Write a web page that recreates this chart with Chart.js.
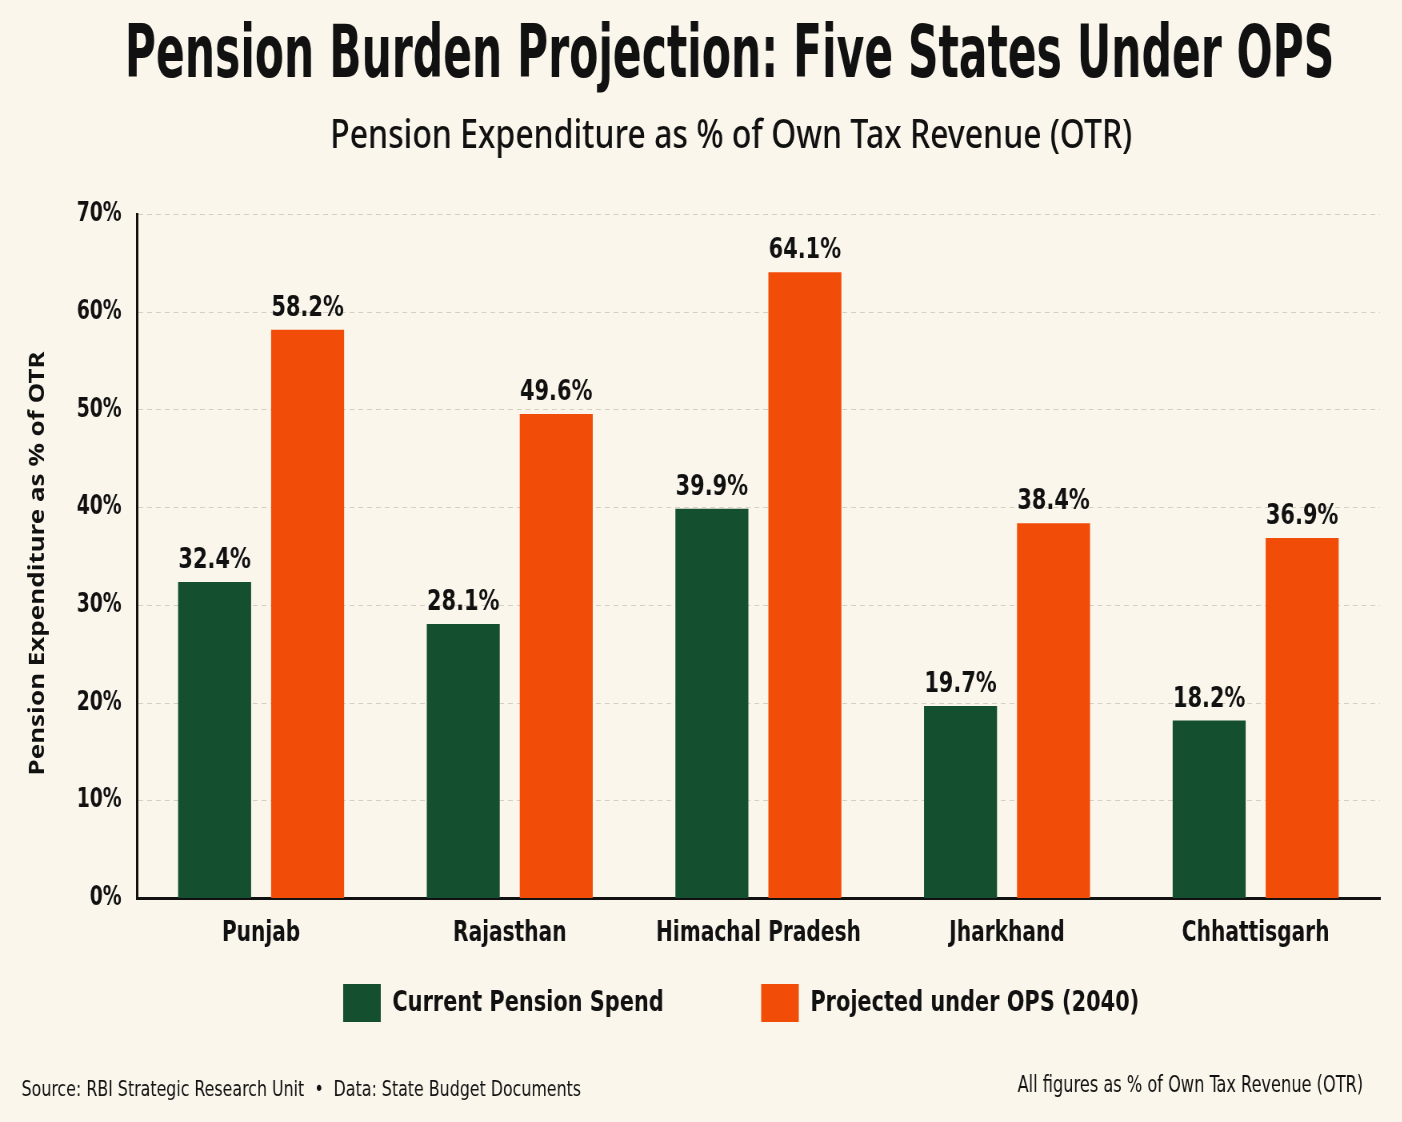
<!DOCTYPE html>
<html>
<head>
<meta charset="utf-8">
<script src="https://cdn.jsdelivr.net/npm/chart.js@4.4.1/dist/chart.umd.min.js"></script>
<style>
  html, body { margin: 0; padding: 0; background: #faf6ec; overflow: hidden; }
  /* chart is laid out 1753 wide and squeezed to 1402 so the text reads condensed */
  #squeeze { width: 1753px; height: 1122px; transform: scaleX(0.8); transform-origin: 0 0; }
</style>
</head>
<body>
<div id="squeeze"><canvas id="chart" width="1753" height="1122"></canvas></div>
<script>
var states = ["Punjab", "Rajasthan", "Himachal Pradesh", "Jharkhand", "Chhattisgarh"];
var currentSpend = [32.4, 28.1, 39.9, 19.7, 18.2];
var projectedOps = [58.2, 49.6, 64.1, 38.4, 36.9];
var yTicks = [0, 10, 20, 30, 40, 50, 60, 70];

var narrow = "'DejaVu Sans Condensed', 'Liberation Sans Narrow', sans-serif";
var green = "#14502f";
var orange = "#f24d08";

var bgPlugin = {
    id: "bg",
    beforeDraw: function(chart) {
        var c = chart.ctx;
        c.save();
        c.fillStyle = "#faf6ec";
        c.fillRect(0, 0, chart.width, chart.height);
        c.restore();
    }
};

// place the title blocks and legend like the original (title text is fitted to its box width)
var nudgePlugin = {
    id: "nudge",
    afterLayout: function(chart) {
        chart.boxes.forEach(function(b) {
            if (b instanceof Chart.Scale) return;
            if (b === chart.legend) {
                b.left += 22;
                b.right += 22;
            } else if (b === chart.titleBlock) {
                b.left = 912 - 756;
                b.right = 912 + 756;
            } else {
                b.left = 914 - 504;
                b.right = 914 + 504;
            }
        });
    }
};

// value labels over bars, y axis title, footer notes
var textPlugin = {
    id: "extraText",
    afterDatasetsDraw: function(chart) {
        var c = chart.ctx;
        c.save();
        c.font = "bold 29px " + narrow;
        c.fillStyle = "#111";
        c.textAlign = "center";
        c.textBaseline = "bottom";
        chart.data.datasets.forEach(function(ds, i) {
            chart.getDatasetMeta(i).data.forEach(function(bar, j) {
                c.fillText(ds.data[j].toFixed(1) + "%", bar.x, bar.y - 7);
            });
        });
        c.restore();
    },
    afterDraw: function(chart) {
        var c = chart.ctx;
        var area = chart.chartArea;
        c.save();
        c.fillStyle = "#111";
        c.textBaseline = "middle";
        c.font = "22px " + narrow;
        c.textAlign = "left";
        c.fillText("Source: RBI Strategic Research Unit  \u2022  Data: State Budget Documents", 27, 1090);
        c.textAlign = "right";
        c.font = "22.5px " + narrow;
        c.fillText("All figures as % of Own Tax Revenue (OTR)", 1704, 1086);
        c.translate(48, (area.top + area.bottom) / 2 + 7);
        c.rotate(-Math.PI / 2);
        c.textAlign = "center";
        c.font = "bold 26px 'Noto Sans', 'Open Sans', sans-serif";
        c.fillText("Pension Expenditure as % of OTR", 0, 0);
        c.restore();
    }
};

var ctx = document.getElementById("chart");
var chart = new Chart(ctx, {
    type: "bar",
    data: {
        labels: states,
        datasets: [{
            label: "Current Pension Spend",
            data: currentSpend,
            backgroundColor: green,
            borderWidth: 0
        }, {
            label: "Projected under OPS (2040)",
            data: projectedOps,
            backgroundColor: orange,
            borderWidth: 0
        }]
    },
    options: {
        responsive: false,
        animation: false,
        devicePixelRatio: 1,
        categoryPercentage: 0.748,
        barPercentage: 0.785,
        layout: { padding: { left: 84, right: 28, top: 0, bottom: 90 } },
        plugins: {
            title: {
                display: true,
                text: "Pension Burden Projection: Five States Under OPS",
                color: "#111",
                font: { family: narrow, size: 73, weight: "bold" },
                padding: { top: 14, bottom: 11 }
            },
            subtitle: {
                display: true,
                text: "Pension Expenditure as % of Own Tax Revenue (OTR)",
                color: "#111",
                font: { family: "'Noto Sans', Roboto, sans-serif", size: 40, weight: "500" },
                padding: { top: 0, bottom: 54 }
            },
            legend: {
                position: "bottom",
                labels: {
                    boxWidth: 47,
                    boxHeight: 38,
                    padding: 22,
                    color: "#111",
                    font: { family: narrow, size: 29, weight: "bold" },
                    generateLabels: function(chart) {
                        var items = Chart.defaults.plugins.legend.labels.generateLabels(chart);
                        // widen the gap between the two entries
                        items[0].text = items[0].text + "           ";
                        return items;
                    }
                }
            },
            tooltip: { enabled: false }
        },
        scales: {
            x: {
                grid: { display: false },
                border: { display: true, color: "#111", width: 3 },
                ticks: {
                    color: "#111",
                    padding: 11,
                    maxRotation: 0,
                    autoSkip: false,
                    font: { family: narrow, size: 28, weight: "bold" }
                }
            },
            y: {
                min: 0,
                max: 70,
                afterFit: function(scale) { scale.width = 87; },
                afterBuildTicks: function(scale) {
                    scale.ticks = yTicks.map(function(v) { return { value: v }; });
                },
                grid: { color: "#d4cfc2", lineWidth: 1, drawTicks: false },
                border: { display: true, color: "#111", width: 3, dash: [6, 5] },
                ticks: {
                    color: "#111",
                    padding: 19,
                    font: { family: narrow, size: 26, weight: "bold" },
                    callback: function(v) { return v + "%"; }
                }
            }
        }
    },
    plugins: [bgPlugin, nudgePlugin, textPlugin]
});
</script>
</body>
</html>
